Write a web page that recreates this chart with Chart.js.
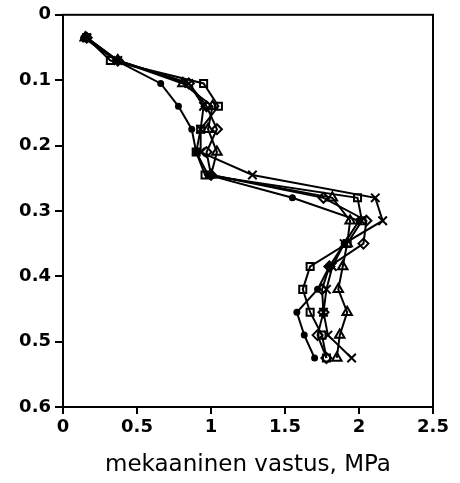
<!DOCTYPE html>
<html>
<head>
<meta charset="utf-8">
<script src="https://cdn.jsdelivr.net/npm/chart.js@4"></script>
<style>
  html, body { margin: 0; padding: 0; background: #fff; }
  #wrap { width: 460px; height: 483px; }
</style>
</head>
<body>
<div id="wrap"><canvas id="canvas"></canvas></div>
<script>
// depth of each reading, m
let depths = [0.035, 0.07, 0.105, 0.14, 0.175, 0.21, 0.245, 0.28, 0.315, 0.35, 0.385, 0.42, 0.455, 0.49, 0.525];

// penetration resistance per profile, MPa
let dotSeries      = [0.14, 0.36, 0.66, 0.78, 0.87, 0.90, 0.98, 1.55, 2.00, 1.90, 1.80, 1.72, 1.58, 1.63, 1.70];
let squareSeries   = [0.16, 0.32, 0.95, 1.05, 0.93, 0.90, 0.96, 1.99, 2.02, 1.92, 1.67, 1.62, 1.67, 1.75, 1.78];
let diamondSeries  = [0.16, 0.37, 0.85, 0.97, 1.04, 0.97, 1.00, 1.76, 2.05, 2.03, 1.80, 1.75, 1.76, 1.72, 1.78];
let triangleSeries = [0.15, 0.37, 0.81, 1.01, 0.98, 1.04, 1.00, 1.82, 1.94, 1.92, 1.89, 1.86, 1.92, 1.87, 1.85];
let crossSeries    = [0.16, 0.37, 0.85, 0.95, 0.93, 0.93, 1.28, 2.11, 2.16, 1.90, 1.82, 1.78, 1.76, 1.79, 1.95];

let xTicks = [0, 0.5, 1, 1.5, 2, 2.5];
let yTicks = [0, 0.1, 0.2, 0.3, 0.4, 0.5, 0.6];

function toPoints(values) {
  let pts = [];
  for (let i = 0; i < values.length; i++) {
    pts.push({ x: values[i], y: depths[i] });
  }
  return pts;
}

function makeSet(values, style, radius, filled) {
  return {
    data: toPoints(values),
    showLine: true,
    borderColor: '#000',
    borderWidth: 2,
    pointStyle: style,
    pointRadius: radius,
    pointBorderWidth: 2,
    pointBorderColor: '#000',
    pointBackgroundColor: filled ? '#000' : 'rgba(0,0,0,0)'
  };
}

// box round the plot area
const frame = {
  id: 'frame',
  afterDraw(chart) {
    let a = chart.chartArea;
    let ctx = chart.ctx;
    ctx.save();
    ctx.strokeStyle = '#000';
    ctx.lineWidth = 2;
    ctx.strokeRect(a.left, a.top, a.right - a.left, a.bottom - a.top);
    ctx.restore();
  }
};

let tickFont = { family: 'DejaVu Sans', size: 18, weight: 'bold' };

new Chart(document.getElementById('canvas'), {
  type: 'scatter',
  data: {
    datasets: [
      makeSet(dotSeries, 'circle', 2.5, true),
      makeSet(squareSeries, 'rect', 5, false),
      makeSet(diamondSeries, 'rectRot', 5, false),
      makeSet(triangleSeries, 'triangle', 5.5, false),
      makeSet(crossSeries, 'crossRot', 6, false)
    ]
  },
  options: {
    responsive: true,
    maintainAspectRatio: false,
    animation: false,
    layout: { padding: { top: 7, right: 27, left: 0, bottom: 0 } },
    plugins: {
      legend: { display: false },
      tooltip: { enabled: false }
    },
    scales: {
      x: {
        type: 'linear',
        min: 0,
        max: 2.5,
        afterBuildTicks: (s) => { s.ticks = xTicks.map(v => ({ value: v })); },
        afterFit: (s) => { s.height = 76; },
        grid: { drawOnChartArea: false, drawTicks: true, tickLength: 7, color: '#000', lineWidth: 2 },
        border: { display: true, color: '#000', width: 2 },
        ticks: { color: '#000', font: tickFont, padding: 3, maxRotation: 0, callback: (v) => String(v) },
        title: {
          display: true,
          text: 'mekaaninen vastus, MPa',
          color: '#000',
          font: { family: 'DejaVu Sans', size: 23 },
          padding: { top: 8 }
        }
      },
      y: {
        type: 'linear',
        reverse: true,
        min: 0,
        max: 0.6,
        afterBuildTicks: (s) => { s.ticks = yTicks.map(v => ({ value: v })); },
        afterFit: (s) => { s.width = 63; },
        grid: { drawOnChartArea: false, drawTicks: true, tickLength: 8, color: '#000', lineWidth: 2 },
        border: { display: true, color: '#000', width: 2 },
        ticks: { color: '#000', font: tickFont, padding: 4, callback: (v) => String(v) }
      }
    }
  },
  plugins: [frame]
});
</script>
</body>
</html>
